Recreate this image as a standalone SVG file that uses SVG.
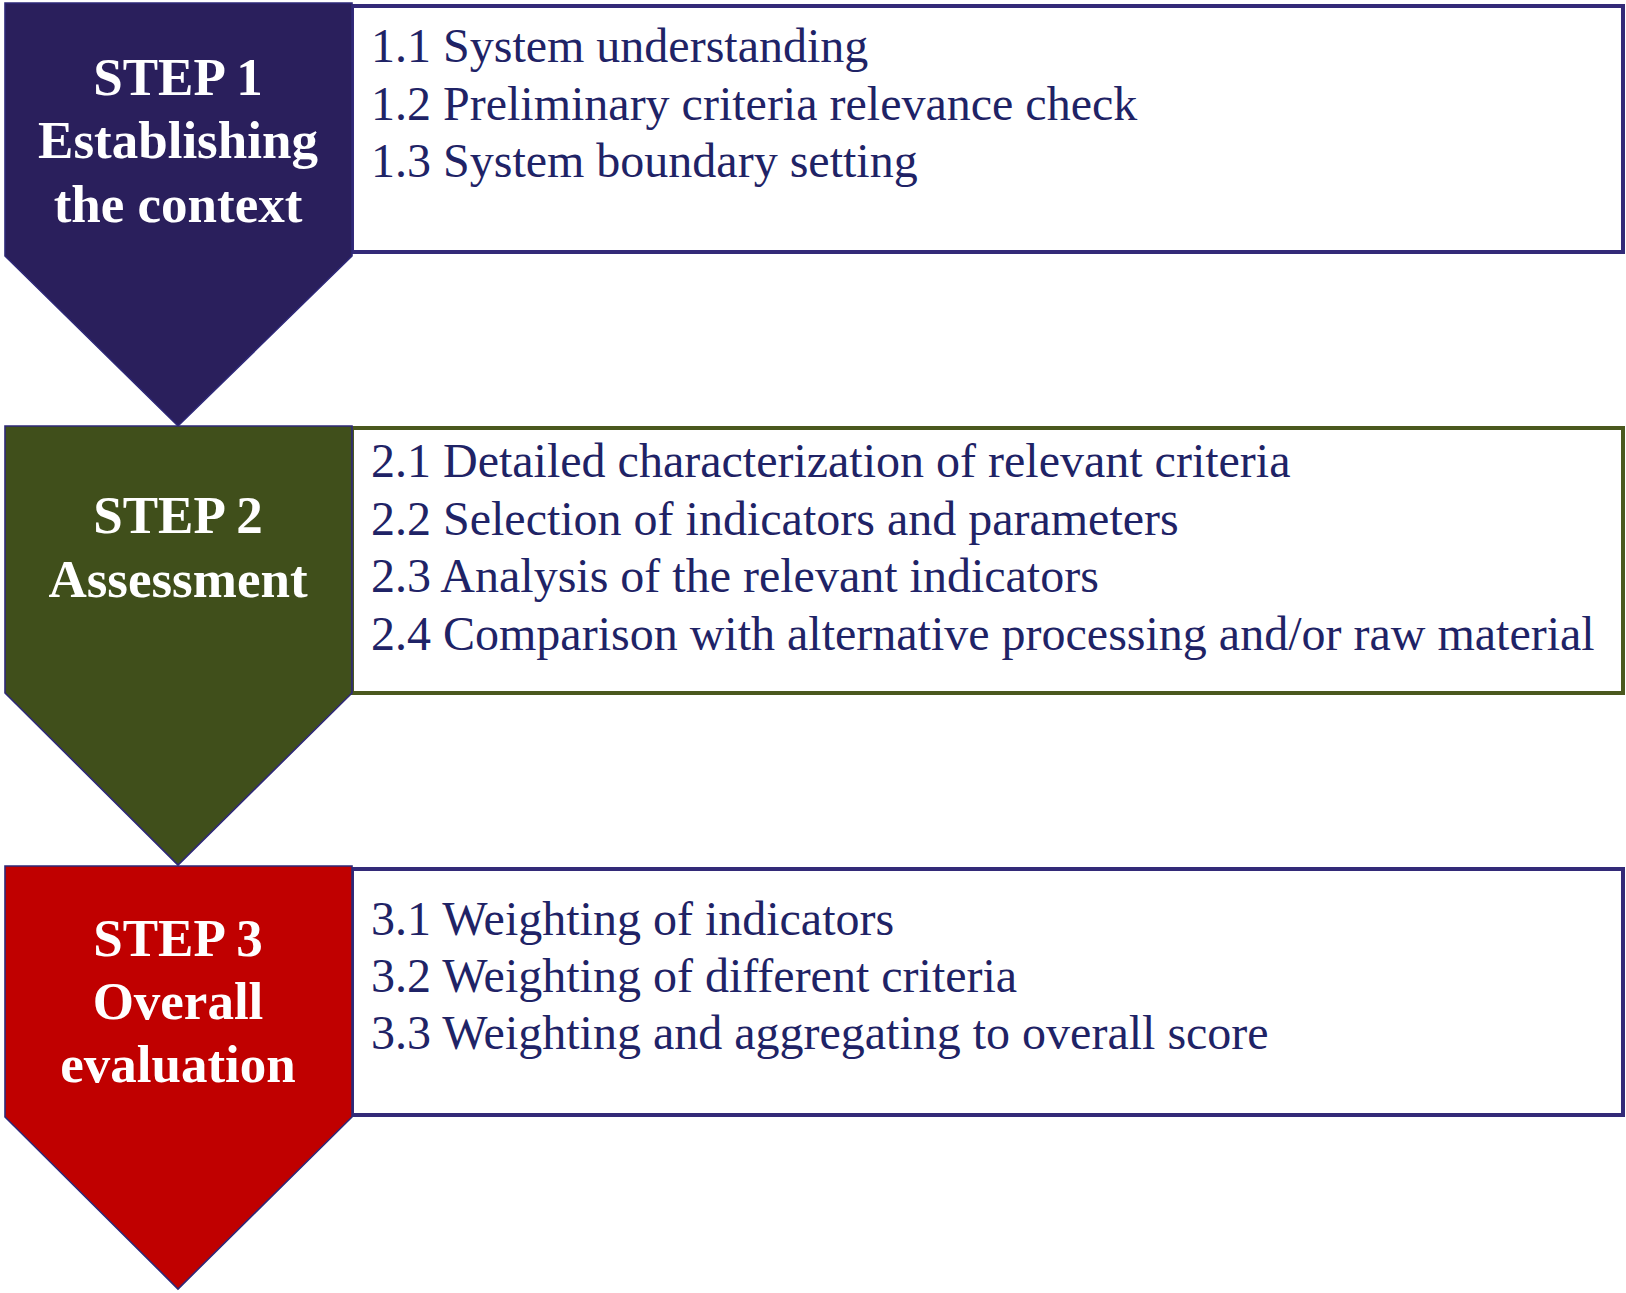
<svg xmlns="http://www.w3.org/2000/svg" width="1626" height="1293" viewBox="0 0 1626 1293">
<style>
.box{fill:#ffffff;stroke-width:4}
.pent{stroke:#2e2878;stroke-width:1.6;stroke-linejoin:miter}
.step{font-family:"Liberation Serif","Times New Roman",serif;font-weight:bold;font-size:53px;fill:#ffffff;text-anchor:middle}
.item{font-family:"Liberation Serif","Times New Roman",serif;font-size:48px;fill:#1f2366}
</style>
<rect width="1626" height="1293" fill="#ffffff"/>
<g id="step1">
<rect class="box" x="352" y="6" width="1271" height="246" stroke="#332a78"/>
<polygon class="pent" points="5,3 352,3 352,256 178,426 5,256" fill="#2a1f5c"/>
<text class="step" x="178" y="95">STEP 1</text>
<text class="step" x="178" y="158">Establishing</text>
<text class="step" x="178" y="222">the context</text>
<text class="item" x="371" y="62">1.1 System understanding</text>
<text class="item" x="371" y="120">1.2 Preliminary criteria relevance check</text>
<text class="item" x="371" y="177">1.3 System boundary setting</text>
</g>
<g id="step2">
<rect class="box" x="352" y="428" width="1271" height="265" stroke="#4a581e"/>
<polygon class="pent" points="5,426 352,426 352,693 178,865 5,693" fill="#404f1b"/>
<text class="step" x="178" y="533">STEP 2</text>
<text class="step" x="178" y="597">Assessment</text>
<text class="item" x="371" y="477">2.1 Detailed characterization of relevant criteria</text>
<text class="item" x="371" y="535">2.2 Selection of indicators and parameters</text>
<text class="item" x="371" y="592">2.3 Analysis of the relevant indicators</text>
<text class="item" x="371" y="650">2.4 Comparison with alternative processing and/or raw material</text>
</g>
<g id="step3">
<rect class="box" x="352" y="869" width="1271" height="246" stroke="#332a78"/>
<polygon class="pent" points="5,866 352,866 352,1117 178,1289 5,1117" fill="#c00000"/>
<text class="step" x="178" y="956">STEP 3</text>
<text class="step" x="178" y="1019">Overall</text>
<text class="step" x="178" y="1082">evaluation</text>
<text class="item" x="371" y="935">3.1 Weighting of indicators</text>
<text class="item" x="371" y="992">3.2 Weighting of different criteria</text>
<text class="item" x="371" y="1049">3.3 Weighting and aggregating to overall score</text>
</g>
</svg>
